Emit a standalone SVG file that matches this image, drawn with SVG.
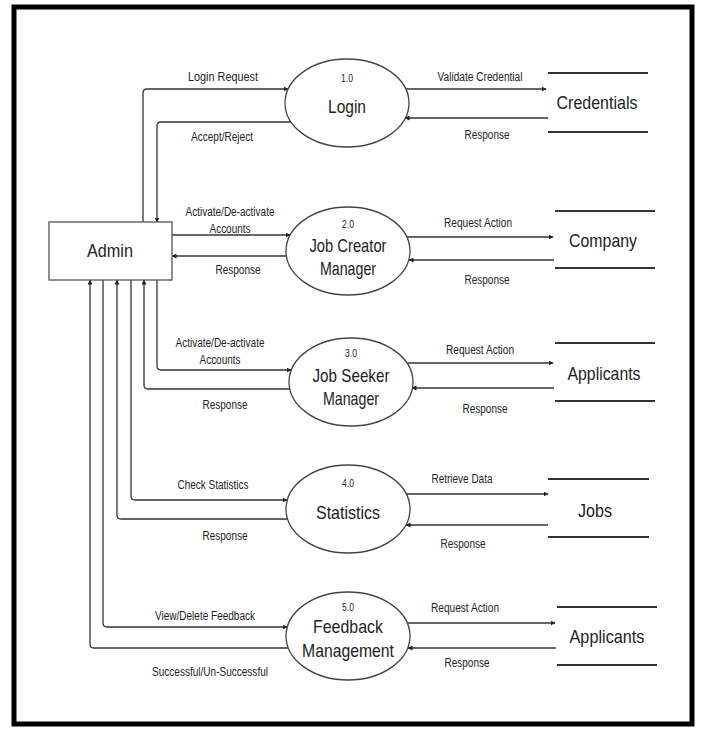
<svg xmlns="http://www.w3.org/2000/svg" width="701" height="729" viewBox="0 0 701 729">
<style>
text{font-family:"Liberation Sans",Arial,sans-serif;fill:#222}
.lbl{font-size:12px;text-anchor:middle}
.num{font-size:11px;text-anchor:middle}
.big{font-size:19px;text-anchor:middle}
.proc{fill:#fff;stroke:#444;stroke-width:1.3}
.store{stroke:#333;stroke-width:2}
.flow{fill:none;stroke:#333;stroke-width:1.3;marker-end:url(#ah)}
</style>
<defs>
<marker id="ah" viewBox="0 0 10 10" refX="9" refY="5" markerWidth="5" markerHeight="5" orient="auto" markerUnits="userSpaceOnUse">
<path d="M0,0 L10,5 L0,10 z" fill="#222"/>
</marker>
</defs>
<rect x="0" y="0" width="701" height="729" fill="#fff"/>
<rect x="14" y="7" width="678" height="717" fill="none" stroke="#000" stroke-width="5"/>

<g id="connectors">
<path class="flow" d="M143,222 V93 Q143,89 147,89 H288"/>
<path class="flow" d="M291,122 H161 Q157,122 157,126 V222"/>
<path class="flow" d="M406,89 H546"/>
<path class="flow" d="M548,118 H405"/>
<path class="flow" d="M172,235 H290"/>
<path class="flow" d="M286,256 H172"/>
<path class="flow" d="M407,237 H553"/>
<path class="flow" d="M554,260 H409"/>
<path class="flow" d="M157,280 V366 Q157,370 161,370 H291"/>
<path class="flow" d="M290,389 H148 Q144,389 144,385 V280"/>
<path class="flow" d="M407,363 H553"/>
<path class="flow" d="M554,388 H412"/>
<path class="flow" d="M131,280 V496 Q131,500 135,500 H287"/>
<path class="flow" d="M288,519 H121 Q117,519 117,515 V280"/>
<path class="flow" d="M406,494 H548"/>
<path class="flow" d="M548,525 H406"/>
<path class="flow" d="M103,280 V623 Q103,627 107,627 H287"/>
<path class="flow" d="M288,648 H94 Q90,648 90,644 V280"/>
<path class="flow" d="M407,623 H555"/>
<path class="flow" d="M556,648 H408"/>
</g>

<g id="flow-labels">
<text class="lbl" x="223" y="81" textLength="70" lengthAdjust="spacingAndGlyphs">Login Request</text>
<text class="lbl" x="222" y="141" textLength="62" lengthAdjust="spacingAndGlyphs">Accept/Reject</text>
<text class="lbl" x="480" y="81" textLength="85" lengthAdjust="spacingAndGlyphs">Validate Credential</text>
<text class="lbl" x="487" y="139" textLength="45" lengthAdjust="spacingAndGlyphs">Response</text>
<text class="lbl" x="230" y="216" textLength="89" lengthAdjust="spacingAndGlyphs">Activate/De-activate</text>
<text class="lbl" x="230" y="233" textLength="41" lengthAdjust="spacingAndGlyphs">Accounts</text>
<text class="lbl" x="238" y="274" textLength="45" lengthAdjust="spacingAndGlyphs">Response</text>
<text class="lbl" x="478" y="227" textLength="68" lengthAdjust="spacingAndGlyphs">Request Action</text>
<text class="lbl" x="487" y="284" textLength="45" lengthAdjust="spacingAndGlyphs">Response</text>
<text class="lbl" x="220" y="347" textLength="89" lengthAdjust="spacingAndGlyphs">Activate/De-activate</text>
<text class="lbl" x="220" y="364" textLength="41" lengthAdjust="spacingAndGlyphs">Accounts</text>
<text class="lbl" x="225" y="409" textLength="45" lengthAdjust="spacingAndGlyphs">Response</text>
<text class="lbl" x="480" y="354" textLength="68" lengthAdjust="spacingAndGlyphs">Request Action</text>
<text class="lbl" x="485" y="413" textLength="45" lengthAdjust="spacingAndGlyphs">Response</text>
<text class="lbl" x="213" y="489" textLength="71" lengthAdjust="spacingAndGlyphs">Check Statistics</text>
<text class="lbl" x="225" y="540" textLength="45" lengthAdjust="spacingAndGlyphs">Response</text>
<text class="lbl" x="462" y="483" textLength="61" lengthAdjust="spacingAndGlyphs">Retrieve Data</text>
<text class="lbl" x="463" y="548" textLength="45" lengthAdjust="spacingAndGlyphs">Response</text>
<text class="lbl" x="205" y="620" textLength="100" lengthAdjust="spacingAndGlyphs">View/Delete Feedback</text>
<text class="lbl" x="210" y="676" textLength="116" lengthAdjust="spacingAndGlyphs">Successful/Un-Successful</text>
<text class="lbl" x="465" y="612" textLength="68" lengthAdjust="spacingAndGlyphs">Request Action</text>
<text class="lbl" x="467" y="667" textLength="45" lengthAdjust="spacingAndGlyphs">Response</text>
</g>

<g id="admin">
<rect x="49" y="222" width="123" height="58" fill="#fff" stroke="#555" stroke-width="1.3"/>
<text class="big" x="110" y="257" font-size="20" textLength="46" lengthAdjust="spacingAndGlyphs">Admin</text>
</g>

<g id="p1-login">
<ellipse class="proc" cx="347" cy="103" rx="62" ry="44"/>
<text class="num" x="347" y="82" textLength="12" lengthAdjust="spacingAndGlyphs">1.0</text>
<text class="big" x="347" y="113" textLength="38" lengthAdjust="spacingAndGlyphs">Login</text>
</g>
<g id="p2-job-creator">
<ellipse class="proc" cx="348" cy="251" rx="62" ry="44"/>
<text class="num" x="348" y="228" textLength="12" lengthAdjust="spacingAndGlyphs">2.0</text>
<text class="big" x="348" y="252" textLength="77" lengthAdjust="spacingAndGlyphs">Job Creator</text>
<text class="big" x="348" y="275" textLength="56" lengthAdjust="spacingAndGlyphs">Manager</text>
</g>
<g id="p3-job-seeker">
<ellipse class="proc" cx="351" cy="382" rx="62" ry="44"/>
<text class="num" x="351" y="357" textLength="12" lengthAdjust="spacingAndGlyphs">3.0</text>
<text class="big" x="351" y="382" textLength="77" lengthAdjust="spacingAndGlyphs">Job Seeker</text>
<text class="big" x="351" y="405" textLength="56" lengthAdjust="spacingAndGlyphs">Manager</text>
</g>
<g id="p4-statistics">
<ellipse class="proc" cx="348" cy="509" rx="62" ry="44"/>
<text class="num" x="348" y="487" textLength="12" lengthAdjust="spacingAndGlyphs">4.0</text>
<text class="big" x="348" y="519" textLength="64" lengthAdjust="spacingAndGlyphs">Statistics</text>
</g>
<g id="p5-feedback">
<ellipse class="proc" cx="348" cy="636" rx="62" ry="44"/>
<text class="num" x="348" y="611" textLength="12" lengthAdjust="spacingAndGlyphs">5.0</text>
<text class="big" x="348" y="633" textLength="70" lengthAdjust="spacingAndGlyphs">Feedback</text>
<text class="big" x="348" y="657" textLength="92" lengthAdjust="spacingAndGlyphs">Management</text>
</g>

<g id="ds-credentials">
<line class="store" x1="548" y1="73" x2="648" y2="73"/>
<line class="store" x1="548" y1="132" x2="648" y2="132"/>
<text class="big" x="597" y="109" textLength="81" lengthAdjust="spacingAndGlyphs">Credentials</text>
</g>
<g id="ds-company">
<line class="store" x1="555" y1="211" x2="655" y2="211"/>
<line class="store" x1="555" y1="268" x2="655" y2="268"/>
<text class="big" x="603" y="247" textLength="68" lengthAdjust="spacingAndGlyphs">Company</text>
</g>
<g id="ds-applicants-1">
<line class="store" x1="555" y1="343" x2="655" y2="343"/>
<line class="store" x1="555" y1="401" x2="655" y2="401"/>
<text class="big" x="604" y="380" textLength="73" lengthAdjust="spacingAndGlyphs">Applicants</text>
</g>
<g id="ds-jobs">
<line class="store" x1="548" y1="479" x2="649" y2="479"/>
<line class="store" x1="548" y1="537" x2="649" y2="537"/>
<text class="big" x="595" y="517" textLength="34" lengthAdjust="spacingAndGlyphs">Jobs</text>
</g>
<g id="ds-applicants-2">
<line class="store" x1="557" y1="607" x2="657" y2="607"/>
<line class="store" x1="557" y1="665" x2="657" y2="665"/>
<text class="big" x="607" y="643" textLength="75" lengthAdjust="spacingAndGlyphs">Applicants</text>
</g>
</svg>
